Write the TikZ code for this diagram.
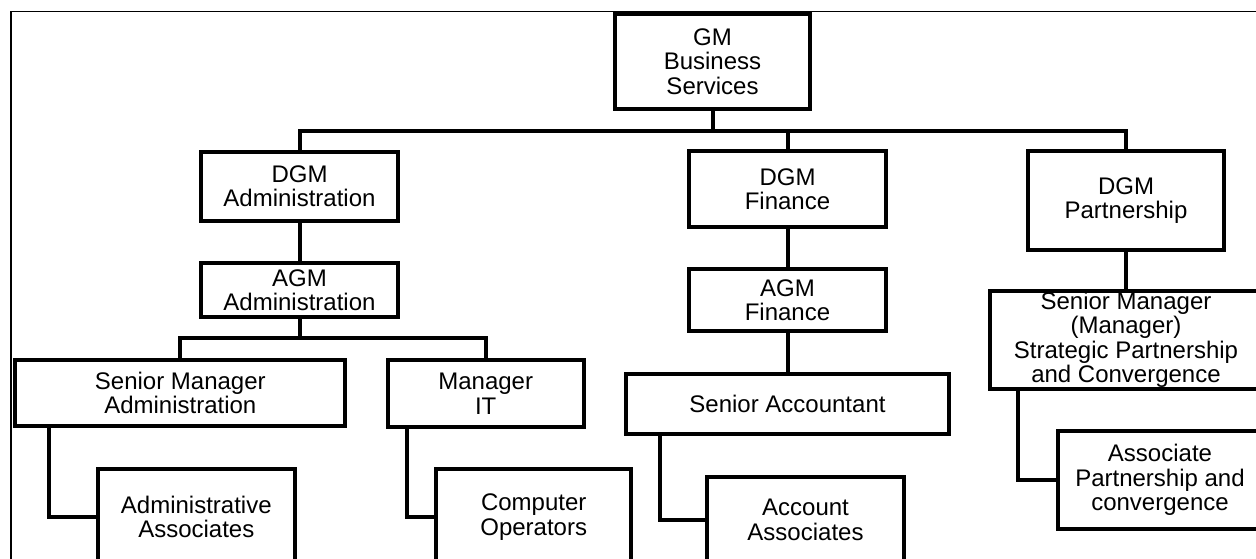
\documentclass[tikz,border=0pt]{standalone}
\usepackage{fontspec}
\setmainfont{Liberation Sans}
\begin{document}
\begin{tikzpicture}[x=1pt,y=-1pt,
  box/.style={draw, line width=4pt, inner sep=0pt, outer sep=0pt, align=center,
    font=\fontsize{24}{24.5}\selectfont},
  link/.style={line width=4pt}]
\useasboundingbox (0,0) rectangle (1256,558);
\clip (0,0) rectangle (1256,558);
% thin outer frame
\draw[line width=1.3pt] (11,11.7) rectangle (1300,620);

% top level
\node[box, minimum width=195pt, minimum height=95pt] (gm) at (712.5,61.5) {GM\\Business\\Services};

% administration column
\node[box, minimum width=197pt, minimum height=69pt] (dgmA) at (299.5,186) {DGM\\Administration};
\node[box, minimum width=197pt, minimum height=54pt] (agmA) at (299.5,290) {AGM\\Administration};
\node[box, minimum width=330pt, minimum height=66pt] (sma) at (180.3,392.7) {Senior Manager\\Administration};
\node[box, minimum width=196pt, minimum height=67pt] (mit) at (485.7,393.5) {Manager\\IT};
\node[box, minimum width=196.7pt, minimum height=96.6pt] (aa) at (196.3,517) {Administrative\\Associates};
\node[box, minimum width=195.3pt, minimum height=96.6pt] (co) at (533.7,517) {Computer\\Operators};

% finance column
\node[box, minimum width=196.4pt, minimum height=75.7pt] (dgmF) at (787.5,189.2) {DGM\\Finance};
\node[box, minimum width=197.4pt, minimum height=62.6pt] (agmF) at (787.5,300) {AGM\\Finance};
\node[box, minimum width=322.7pt, minimum height=60.6pt] (sacc) at (787.5,404) {Senior Accountant};
\node[box, minimum width=196.4pt, minimum height=85.4pt] (acc) at (805.5,520) {Account\\Associates};

% partnership column
\node[box, minimum width=196.3pt, minimum height=98.4pt] (dgmP) at (1126,200.5) {DGM\\Partnership};
\node[box, minimum width=272pt, minimum height=98pt] (smP) at (1126,339.7) {Senior Manager\\(Manager)\\Strategic Partnership\\and Convergence};
\node[box, minimum width=204pt, minimum height=97.7pt] (apc) at (1160,479.9) {Associate\\Partnership and\\convergence};

% bus lines
\coordinate (bus) at (0,131);
\coordinate (sub) at (0,338);

% connectors
\draw[link] (gm.south) -- (gm.south |- bus);
\draw[link] (dgmA.north) |- (bus -| dgmP.north) -- (dgmP.north);
\draw[link] (dgmF.north) -- (dgmF.north |- bus);

\draw[link] (dgmA.south) -- (agmA.north);
\draw[link] (agmA.south) -- (agmA.south |- sub);
\draw[link] (sma.north) |- (sub -| mit.north) -- (mit.north);
\draw[link] ([xshift=33.4pt]sma.south west) |- (aa.west);
\draw[link] ([xshift=19.3pt]mit.south west) |- (co.west);

\draw[link] (dgmF.south) -- (agmF.north);
\draw[link] (agmF.south) -- (sacc.north);
\draw[link] ([xshift=34pt]sacc.south west) |- (acc.west);

\draw[link] (dgmP.south) -- (smP.north);
\draw[link] ([xshift=28pt]smP.south west) |- (apc.west);
\end{tikzpicture}
\end{document}
